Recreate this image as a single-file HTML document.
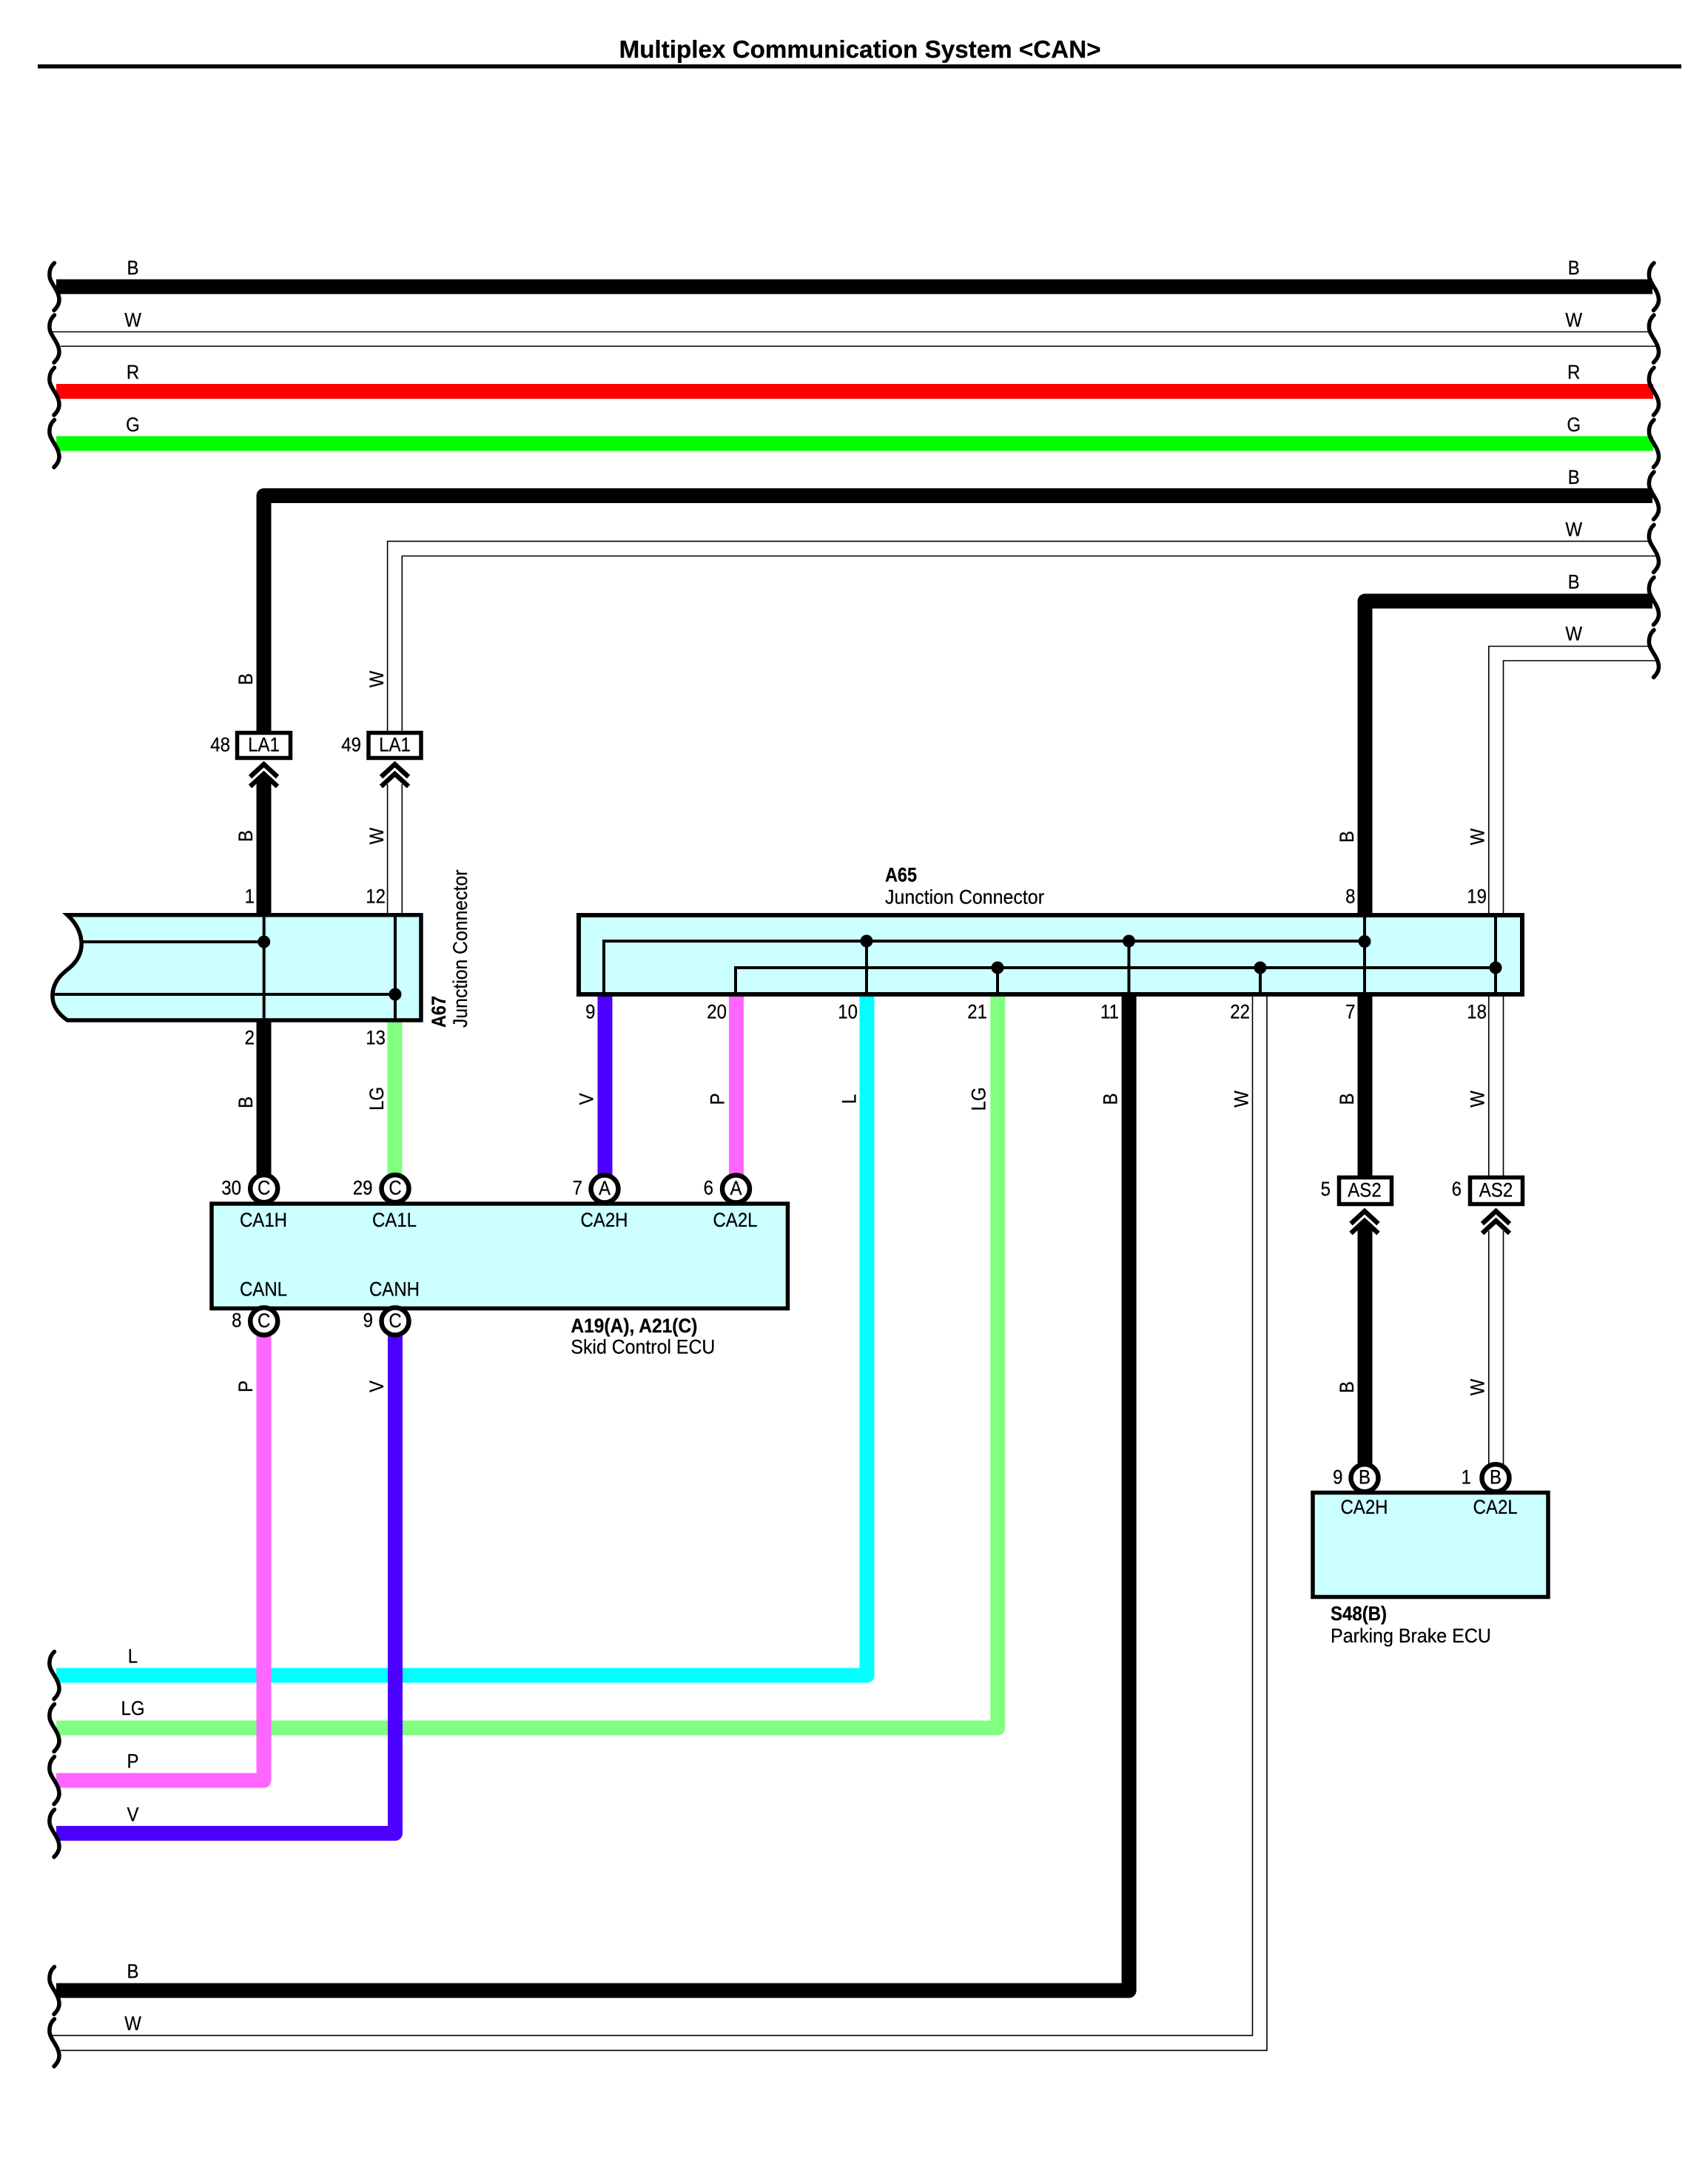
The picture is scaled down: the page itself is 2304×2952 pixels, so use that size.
<!DOCTYPE html>
<html><head><meta charset="utf-8"><title>Multiplex Communication System</title>
<style>
html,body{margin:0;padding:0;background:#fff}
svg{display:block}
text{font-family:"Liberation Sans",sans-serif;font-size:27px;fill:#000;stroke:#000;stroke-width:.25}
.c{text-anchor:middle;transform-box:fill-box;transform-origin:center;transform:scaleX(.89)}
.r{text-anchor:end;transform-box:fill-box;transform-origin:100% 50%;transform:scaleX(.89)}
.v{text-anchor:middle}
.b{font-weight:bold}
.w{fill:none;stroke-width:20;stroke-linejoin:round}
.t{fill:none;stroke:#000;stroke-width:1.6}
.i{fill:none;stroke:#000;stroke-width:4}
.x{fill:#CCFFFF;stroke:#000;stroke-width:5.5}
.k{fill:#fff;stroke:#000;stroke-width:6.5}
.h{fill:none;stroke:#000;stroke-width:6.5;stroke-linejoin:miter}
.s{fill:none;stroke:#000;stroke-width:5.5;stroke-linecap:round}
</style></head>
<body>
<svg xmlns="http://www.w3.org/2000/svg" width="2304" height="2952" viewBox="0 0 2304 2952">
<defs><path id="q" class="s" d="M73.5,-32 C68,-27 66.5,-20 67,-14 C68,-4 80,5 80,18 C80,23 77,28 73,32"/></defs>
<rect width="2304" height="2952" fill="#fff"/>

<text x="836.6" y="78" class="b" style="font-size:33px" textLength="651" lengthAdjust="spacingAndGlyphs">Multiplex Communication System &lt;CAN&gt;</text>
<rect x="51" y="87" width="2221" height="5.5" fill="#000"/>

<!-- top straight wires -->
<path class="w" stroke="#000" d="M76,387.5H2233"/>
<path class="t" d="M71,448.5H2228.6M82,468H2237.6"/>
<path class="w" stroke="#FF0000" d="M76,529H2234"/>
<path class="w" stroke="#00FF00" d="M76,599.5H2234"/>

<!-- B/W to A67 -->
<path class="w" stroke="#000" d="M2233,670H356.5V992"/>
<path class="t" d="M2228.6,731.6H523.6V992M2237.6,751.5H543.3V992"/>
<polygon fill="#000" points="356.5,1047 346.5,1057 346.5,1240 366.5,1240 366.5,1057"/>
<path class="t" d="M523.6,1060V1240M543.3,1060V1240"/>

<!-- B/W to A65 right -->
<path class="w" stroke="#000" d="M2233,812.5H1844.5V1240"/>
<path class="t" d="M2228.6,873.5H2011.8V1240M2237.6,893H2031.5V1240"/>

<!-- lower horizontal colored wires -->
<path class="w" stroke="#00FFFF" d="M76,2264.5H1171.5V1344"/>
<path class="w" stroke="#80FF80" d="M76,2335.5H1348.3V1344"/>
<path class="w" stroke="#FF66FF" d="M76,2406.5H356.5V1800"/>
<path class="w" stroke="#4C00FF" d="M76,2478H534V1800"/>
<path class="w" stroke="#000" d="M76,2690.5H1525.6V1344"/>
<path class="t" d="M71,2751.3H1692.5V1344M82,2771.4H1712V1344"/>

<!-- A67 to ECU -->
<path class="w" stroke="#000" d="M356.5,1378V1590"/>
<path class="w" stroke="#80FF80" d="M533.5,1378V1590"/>
<!-- A65 to ECU -->
<path class="w" stroke="#4C00FF" d="M817.5,1344V1590"/>
<path class="w" stroke="#FF66FF" d="M995,1344V1590"/>

<!-- A65 to AS2 & parking brake -->
<path class="w" stroke="#000" d="M1844.5,1344V1592"/>
<path class="t" d="M2011.8,1344V1592M2031.5,1344V1592"/>
<polygon fill="#000" points="1844.5,1651 1834.5,1661 1834.5,1982 1854.5,1982 1854.5,1661"/>
<path class="t" d="M2011.8,1664V1982M2031.5,1664V1982"/>

<!-- A67 connector -->
<path class="x" stroke-linejoin="miter" d="M91,1236.7H569V1379H91C78,1370 70,1358 71,1344C72,1326 84,1316 93,1309C104,1300 111,1288 110,1273C109,1258 101,1246 91,1236.7Z"/>
<path class="i" d="M110,1273H356.7M71,1344H534M356.7,1237V1379M534,1237V1379"/>
<circle cx="356.7" cy="1273" r="8.5"/><circle cx="534" cy="1344" r="8.5"/>

<!-- A65 connector -->
<rect class="x" x="782" y="1237" width="1275" height="107" style="stroke-width:6"/>
<path class="i" d="M816,1344V1272H1844M994,1344V1308H2021M1171,1272V1344M1348,1308V1344M1525.5,1272V1344M1703,1308V1344M1844,1237V1344M2021,1237V1344"/>
<circle cx="1171" cy="1272" r="8.5"/><circle cx="1348" cy="1308" r="8.5"/><circle cx="1525.5" cy="1272" r="8.5"/><circle cx="1703" cy="1308" r="8.5"/><circle cx="1844" cy="1272.5" r="8.5"/><circle cx="2021" cy="1308" r="8.5"/>

<!-- ECU boxes -->
<rect class="x" x="286" y="1627" width="778.5" height="141.5"/>
<rect class="x" x="1774" y="2017.5" width="318" height="141"/>

<!-- connector circles -->
<circle class="k" cx="356.7" cy="1606.6" r="18.5"/>
<circle class="k" cx="534" cy="1606.6" r="18.5"/>
<circle class="k" cx="817" cy="1607" r="18.5"/>
<circle class="k" cx="994.5" cy="1607" r="18.5"/>
<circle class="k" cx="356.7" cy="1786" r="18.5"/>
<circle class="k" cx="534" cy="1786" r="18.5"/>
<circle class="k" cx="1844" cy="1997.7" r="18.5"/>
<circle class="k" cx="2021" cy="1997.7" r="18.5"/>

<!-- inline connectors -->
<rect x="320.5" y="990.5" width="72" height="34" fill="#fff" stroke="#000" stroke-width="5.5"/>
<rect x="498" y="990.5" width="71" height="34" fill="#fff" stroke="#000" stroke-width="5.5"/>
<rect x="1809.5" y="1591.5" width="71" height="36" fill="#fff" stroke="#000" stroke-width="5.5"/>
<rect x="1986.5" y="1591.5" width="71" height="36" fill="#fff" stroke="#000" stroke-width="5.5"/>

<!-- chevrons -->
<path class="h" d="M338,1050L356.5,1033L375,1050M338,1063L356.5,1046L375,1063"/>
<path class="h" d="M515,1050L533.5,1033L552,1050M515,1063L533.5,1046L552,1063"/>
<path class="h" d="M1825.5,1654L1844,1637L1862.5,1654M1825.5,1667L1844,1650L1862.5,1667"/>
<path class="h" d="M2003,1654L2021.5,1637L2040,1654M2003,1667L2021.5,1650L2040,1667"/>

<!-- squiggles -->
<use href="#q" y="387.5"/><use href="#q" y="458"/><use href="#q" y="529"/><use href="#q" y="599.5"/>
<use href="#q" y="2264.5"/><use href="#q" y="2335.5"/><use href="#q" y="2406.5"/><use href="#q" y="2478"/><use href="#q" y="2690.5"/><use href="#q" y="2761"/>
<use href="#q" x="2161.5" y="387.5"/><use href="#q" x="2161.5" y="458"/><use href="#q" x="2161.5" y="529"/><use href="#q" x="2161.5" y="599.5"/><use href="#q" x="2161.5" y="670"/><use href="#q" x="2161.5" y="741.5"/><use href="#q" x="2161.5" y="812.5"/><use href="#q" x="2161.5" y="883.5"/>

<g transform="translate(0,-1.5)">
<!-- wire labels left -->
<text class="c" x="179.5" y="372.5">B</text>
<text class="c" x="179.5" y="443">W</text>
<text class="c" x="179.5" y="513.5">R</text>
<text class="c" x="179.5" y="584.5">G</text>
<text class="c" x="179.5" y="2249">L</text>
<text class="c" x="179.5" y="2319.5">LG</text>
<text class="c" x="179.5" y="2391">P</text>
<text class="c" x="179.5" y="2463">V</text>
<text class="c" x="179.5" y="2675">B</text>
<text class="c" x="179.5" y="2745.5">W</text>
<!-- wire labels right -->
<text class="c" x="2126.7" y="372.5">B</text>
<text class="c" x="2126.7" y="443">W</text>
<text class="c" x="2126.7" y="513.5">R</text>
<text class="c" x="2126.7" y="584.5">G</text>
<text class="c" x="2126.7" y="655.5">B</text>
<text class="c" x="2126.7" y="726">W</text>
<text class="c" x="2126.7" y="797">B</text>
<text class="c" x="2126.7" y="867">W</text>

<!-- inline connector text -->
<text class="r" x="311" y="1017">48</text>
<text class="c" x="356.5" y="1017">LA1</text>
<text class="r" x="488" y="1017">49</text>
<text class="c" x="533.5" y="1017">LA1</text>
<text class="r" x="1798" y="1617.5">5</text>
<text class="c" x="1844" y="1619">AS2</text>
<text class="r" x="1975" y="1617.5">6</text>
<text class="c" x="2021.5" y="1619">AS2</text>

<!-- pin numbers -->
<text class="r" x="344" y="1222">1</text>
<text class="r" x="521" y="1222">12</text>
<text class="r" x="344" y="1413">2</text>
<text class="r" x="521" y="1413">13</text>
<text class="r" x="326" y="1616">30</text>
<text class="r" x="503.5" y="1616">29</text>
<text class="r" x="787" y="1616">7</text>
<text class="r" x="964" y="1616">6</text>
<text class="r" x="326.5" y="1795">8</text>
<text class="r" x="504" y="1795">9</text>
<text class="r" x="804.5" y="1378">9</text>
<text class="r" x="982" y="1378">20</text>
<text class="r" x="1159" y="1378">10</text>
<text class="r" x="1334" y="1378">21</text>
<text class="r" x="1512" y="1378">11</text>
<text class="r" x="1689" y="1378">22</text>
<text class="r" x="1831.5" y="1378">7</text>
<text class="r" x="2009" y="1378">18</text>
<text class="r" x="1831.5" y="1222">8</text>
<text class="r" x="2009" y="1222">19</text>
<text class="r" x="1814.5" y="2007">9</text>
<text class="r" x="1988" y="2007">1</text>

<!-- circle letters -->
<text class="c" x="356.7" y="1616">C</text>
<text class="c" x="534" y="1616">C</text>
<text class="c" x="817" y="1616.5">A</text>
<text class="c" x="994.5" y="1616.5">A</text>
<text class="c" x="356.7" y="1795.5">C</text>
<text class="c" x="534" y="1795.5">C</text>
<text class="c" x="1844" y="2007">B</text>
<text class="c" x="2021" y="2007">B</text>

<!-- terminal names -->
<text class="c" x="356" y="1659.5">CA1H</text>
<text class="c" x="533" y="1659.5">CA1L</text>
<text class="c" x="816.5" y="1659.5">CA2H</text>
<text class="c" x="993.5" y="1659.5">CA2L</text>
<text class="c" x="356" y="1753">CANL</text>
<text class="c" x="533" y="1753">CANH</text>
<text class="c" x="1843.5" y="2047.5">CA2H</text>
<text class="c" x="2020.7" y="2047.5">CA2L</text>
</g>

<!-- rotated wire labels -->
<text class="v" transform="translate(341,918) rotate(-90) scale(.89,1)">B</text>
<text class="v" transform="translate(518,918) rotate(-90) scale(.89,1)">W</text>
<text class="v" transform="translate(341,1130) rotate(-90) scale(.89,1)">B</text>
<text class="v" transform="translate(518,1130) rotate(-90) scale(.89,1)">W</text>
<text class="v" transform="translate(341,1490) rotate(-90) scale(.89,1)">B</text>
<text class="v" transform="translate(518,1485) rotate(-90) scale(.89,1)">LG</text>
<text class="v" transform="translate(341,1874) rotate(-90) scale(.89,1)">P</text>
<text class="v" transform="translate(518,1874) rotate(-90) scale(.89,1)">V</text>
<text class="v" transform="translate(801.5,1485.5) rotate(-90) scale(.89,1)">V</text>
<text class="v" transform="translate(978.5,1485.5) rotate(-90) scale(.89,1)">P</text>
<text class="v" transform="translate(1156.5,1485.5) rotate(-90) scale(.89,1)">L</text>
<text class="v" transform="translate(1331.5,1485.5) rotate(-90) scale(.89,1)">LG</text>
<text class="v" transform="translate(1509.5,1485.5) rotate(-90) scale(.89,1)">B</text>
<text class="v" transform="translate(1686.5,1485.5) rotate(-90) scale(.89,1)">W</text>
<text class="v" transform="translate(1829,1485.5) rotate(-90) scale(.89,1)">B</text>
<text class="v" transform="translate(2005.5,1485.5) rotate(-90) scale(.89,1)">W</text>
<text class="v" transform="translate(1829,1131) rotate(-90) scale(.89,1)">B</text>
<text class="v" transform="translate(2005.5,1131) rotate(-90) scale(.89,1)">W</text>
<text class="v" transform="translate(1829,1875) rotate(-90) scale(.89,1)">B</text>
<text class="v" transform="translate(2005.5,1875) rotate(-90) scale(.89,1)">W</text>

<!-- component labels -->
<text class="b" x="1196" y="1191.5" textLength="43" lengthAdjust="spacingAndGlyphs">A65</text>
<text x="1196" y="1221.5" textLength="215" lengthAdjust="spacingAndGlyphs">Junction Connector</text>
<text class="b" x="771.4" y="1801" textLength="171" lengthAdjust="spacingAndGlyphs">A19(A), A21(C)</text>
<text x="771.4" y="1829.5" textLength="195" lengthAdjust="spacingAndGlyphs">Skid Control ECU</text>
<text class="b" x="1798" y="2190" textLength="76" lengthAdjust="spacingAndGlyphs">S48(B)</text>
<text x="1798" y="2220" textLength="217" lengthAdjust="spacingAndGlyphs">Parking Brake ECU</text>
<text class="b" transform="translate(602,1389) rotate(-90)" textLength="43" lengthAdjust="spacingAndGlyphs">A67</text>
<text transform="translate(631,1389) rotate(-90)" textLength="213.5" lengthAdjust="spacingAndGlyphs">Junction Connector</text>
</svg>
</body></html>
